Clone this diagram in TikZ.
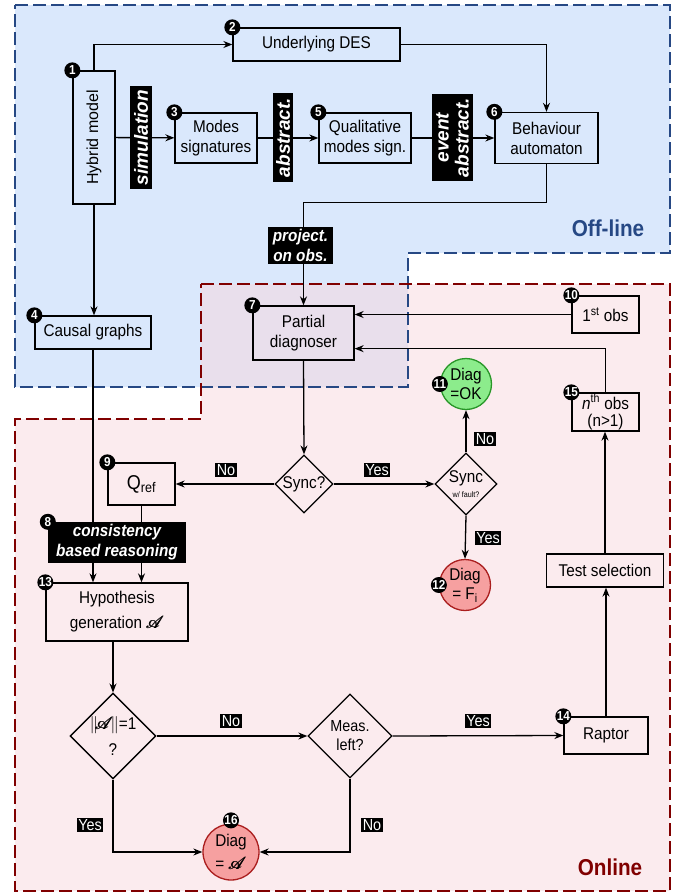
\documentclass[tikz,border=0pt]{standalone}
\usepackage{amsmath}
\usepackage{mathrsfs}
\usepackage{graphicx}
\usepackage{fontspec}
\setmainfont[FakeStretch=0.9]{Liberation Sans}
\newfontfamily\uprightfont{Liberation Sans}
\usetikzlibrary{arrows.meta,shapes.geometric}

\definecolor{offblue}{RGB}{218,232,252}
\definecolor{offline}{RGB}{38,72,132}
\definecolor{onpink}{RGB}{248,215,222}
\definecolor{online}{RGB}{128,0,0}
\definecolor{okgreen}{RGB}{140,236,140}
\definecolor{okborder}{RGB}{40,150,40}
\definecolor{faultred}{RGB}{246,160,160}
\definecolor{faultborder}{RGB}{170,30,30}

\tikzset{
  block/.style={draw, line width=1.3pt, align=center, inner sep=1pt, font=\fontsize{17}{20}\selectfont},
  badge/.style={circle, fill=black, text=white, inner sep=0pt, minimum size=16pt, font=\bfseries\fontsize{13}{13}\selectfont},
  tag/.style={fill=black, text=white, align=center, inner sep=1pt, font=\bfseries\itshape\fontsize{17}{20}\selectfont},
  rtag/.style={tag, rotate=90, font=\uprightfont\bfseries\itshape\fontsize{19}{20}\selectfont},
  answer/.style={fill=black, text=white, inner sep=1.5pt, font=\fontsize{16}{16}\selectfont},
  decision/.style={diamond, draw, line width=1.3pt, align=center, inner sep=0pt, font=\fontsize{17}{19}\selectfont},
  result/.style={circle, draw, line width=1.3pt, align=center, inner sep=0pt, font=\fontsize{17}{19}\selectfont},
  flow/.style={-{Stealth[length=9pt,width=7pt]}, line width=1.3pt},
  zone/.style={line width=1.8pt, dash pattern=on 13pt off 5pt}
}

\begin{document}
\begin{tikzpicture}[x=1pt,y=-1pt]
    \useasboundingbox (0,0) rectangle (683,894);

    % Regions
    \fill[offblue] (15,5) -- (670,5) -- (670,253) -- (408,253) -- (408,387) -- (15,387) -- cycle;
    \fill[onpink, opacity=0.5] (201,284) -- (670,284) -- (670,891) -- (15,891) -- (15,419) -- (201,419) -- cycle;
    \draw[zone, offline] (15,5) -- (670,5) -- (670,253) -- (408,253) -- (408,387) -- (15,387) -- cycle;
    \draw[zone, online] (201,284) -- (670,284) -- (670,891) -- (15,891) -- (15,419) -- (201,419) -- cycle;
    \node[text=offline, font=\bfseries\fontsize{23}{23}\selectfont] (offlbl) at (608,228) {Off-line};
    \node[text=online, font=\bfseries\fontsize{23}{23}\selectfont] (onlbl) at (610,867) {Online};

    % Off-line chain
    \node[block, minimum width=42, minimum height=133] (hyb) at (94,137.5) {\rotatebox{90}{\uprightfont\fontsize{16}{16}\selectfont Hybrid model}};
    \node[block, minimum width=167, minimum height=33] (des) at (316.5,44.5) {Underlying DES};
    \node[block, minimum width=82, minimum height=50] (mod) at (216,138) {Modes\\signatures};
    \node[block, minimum width=92, minimum height=50] (qual) at (365,138) {Qualitative\\modes sign.};
    \node[block, minimum width=103, minimum height=51] (beh) at (546.5,138) {Behaviour\\automaton};
    \node[block, minimum width=116, minimum height=33] (cg) at (93,332.5) {Causal graphs};

    % Diagnoser and observations
    \node[block, minimum width=101, minimum height=54] (pd) at (303.5,333) {Partial\\diagnoser};
    \node[block, minimum width=67, minimum height=37] (obs1) at (605.5,314.5) {1\textsuperscript{st} obs};
    \node[block, minimum width=67, minimum height=38] (obsn) at (605.5,412) {\textit{n}\textsuperscript{th} obs\\[-3pt](n>1)};
    \node[decision, minimum size=57] (sync) at (304,484) {Sync?};
    \node[decision, minimum size=62] (syncf) at (466,484) {Sync\\[-4pt]{\fontsize{8}{8}\selectfont w/ fault?}};
    \node[result, fill=okgreen, draw=okborder, minimum size=51] (ok) at (466,384) {Diag\\=OK};
    \node[result, fill=faultred, draw=faultborder, minimum size=51] (fi) at (465,585) {Diag\\= F\textsubscript{i}};
    \node[block, minimum width=67, minimum height=42] (qref) at (141.5,484) {\fontsize{20}{20}\selectfont Q\textsubscript{ref}};

    % Hypotheses and tests
    \node[block, minimum width=142, minimum height=58, font=\fontsize{17}{25}\selectfont] (hyp) at (117,612) {Hypothesis\\generation $\pmb{\mathscr{A}}$};
    \node[decision, minimum size=83, font=\fontsize{17}{26}\selectfont] (norm) at (113,736) {$\|\!\pmb{\mathscr{A}}\!\|$=1\\?};
    \node[decision, minimum size=84, font=\fontsize{16}{19}\selectfont] (meas) at (350,736) {Meas.\\left?};
    \node[block, minimum width=84, minimum height=37] (rap) at (606,735.5) {Raptor};
    \node[block, minimum width=117, minimum height=33] (test) at (605,570.5) {Test selection};
    \node[result, fill=faultred, draw=faultborder, minimum size=56, font=\fontsize{17}{23}\selectfont] (diaga) at (231,852) {Diag\\= $\pmb{\mathscr{A}}$};

    % Connectors
    \draw[flow] (hyb.north) |- (des.west);
    \draw[flow] (des.east) -| (beh.north);
    \draw[flow] (hyb) -- (mod);
    \draw[flow] (mod) -- (qual);
    \draw[flow] (qual) -- (beh);
    \draw[flow] (beh.south) -- ++(0,38) -| (pd.north);
    \draw[flow] (hyb.south) -- (hyb.south |- cg.north);
    \draw[flow] (obs1.west) -- (obs1.west -| pd.east);
    \draw[flow] (obsn.north) |- ([yshift=12pt]pd.south east);
    \draw[flow] (pd.south) -- (sync.north);
    \draw[flow] (sync.west) -- (qref.east);
    \draw[flow] (sync.east) -- (syncf.west);
    \draw[flow] (syncf.north) -- (ok.south);
    \draw[flow] (syncf.south) -- (fi.north);
    \draw[flow] (cg.south) -- (cg.south |- hyp.north);
    \draw[flow] (qref.south) -- (qref.south |- hyp.north);
    \draw[flow] (norm.north |- hyp.south) -- (norm.north);
    \draw[flow] (norm.east) -- (meas.west);
    \draw[flow] (meas.east) -- (rap.west);
    \draw[flow] (rap.north) -- (rap.north |- test.south);
    \draw[flow] (test.north) -- (test.north |- obsn.south);
    \draw[flow] (norm.south) |- (diaga.west);
    \draw[flow] (meas.south) |- (diaga.east);

    % Tags on the connectors
    \node[rtag, minimum width=103, minimum height=22] (simtag) at (141,137.5) {simulation};
    \node[rtag, minimum width=89, minimum height=20] (abstag) at (283,137.5) {abstract.};
    \node[rtag, minimum width=87, minimum height=41] (evtag) at (452.5,137.5) {event\\abstract.};
    \node[tag, minimum width=65, minimum height=37] (projtag) at (300.5,245.5) {project.\\on obs.};
    \node[tag, minimum width=138, minimum height=41] (cbrtag) at (117,542.5) {consistency\\based reasoning};

    % Yes / No
    \node[answer] (no1) at (226,470) {No};
    \node[answer] (yes1) at (377,470) {Yes};
    \node[answer] (no2) at (485,439) {No};
    \node[answer] (yes2) at (488,538) {Yes};
    \node[answer] (no3) at (231,721) {No};
    \node[answer] (yes3) at (478,721) {Yes};
    \node[answer] (yes4) at (90,825) {Yes};
    \node[answer] (no4) at (372,825) {No};

    % Step numbers
    \node[badge] (n1) at (hyb.north west) {1};
    \node[badge] (n2) at (des.north west) {2};
    \node[badge] (n3) at (mod.north west) {3};
    \node[badge] (n4) at (cg.north west) {4};
    \node[badge] (n5) at (qual.north west) {5};
    \node[badge] (n6) at (beh.north west) {6};
    \node[badge] (n7) at (pd.north west) {7};
    \node[badge] (n8) at (cbrtag.north west) {8};
    \node[badge] (n9) at (qref.north west) {9};
    \node[badge] (n10) at (obs1.north west) {10};
    \node[badge] (n11) at (ok.west) {11};
    \node[badge] (n12) at (fi.west) {12};
    \node[badge] (n13) at (hyp.north west) {13};
    \node[badge] (n14) at (rap.north west) {14};
    \node[badge] (n15) at (obsn.north west) {15};
    \node[badge] (n16) at ([yshift=3pt]diaga.north) {16};

\end{tikzpicture}
\end{document}
